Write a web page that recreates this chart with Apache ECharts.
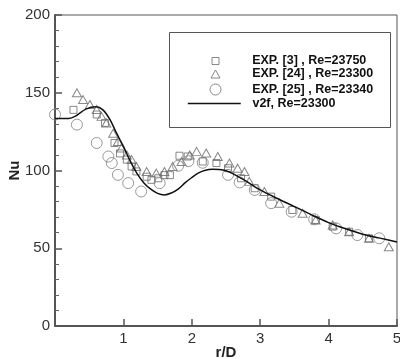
<!DOCTYPE html>
<html>
<head>
<meta charset="utf-8">
<script src="https://cdn.jsdelivr.net/npm/echarts@6/dist/echarts.min.js"></script>
<style>html,body{margin:0;padding:0;background:#fff}#c{width:400px;height:359px}</style>
</head>
<body>
<div id="c"></div>
<script>
// v2f, Re=23300 (line)
const v2fR  = [0, 0.2, 0.3, 0.45, 0.6, 0.7, 0.8, 0.9, 1.0, 1.1, 1.2, 1.3, 1.4, 1.5, 1.6, 1.7, 1.8, 1.9, 2.0, 2.1, 2.2, 2.3, 2.4, 2.5, 2.6, 2.8, 3.0, 3.25, 3.5, 3.75, 4.0, 4.25, 4.5, 4.75, 5.0];
const v2fNu = [133.5, 133.5, 135, 139.5, 141, 139, 133, 124, 115.5, 106, 98, 92, 88, 85.3, 84.3, 85.5, 88, 92, 95.5, 98.5, 100.2, 100.8, 100.6, 99.8, 98, 93, 87.5, 82, 76.8, 71.5, 66.5, 62.5, 59, 56.5, 54];
// EXP. [3], Re=23750 (squares)
const exp3R  = [0.27, 0.61, 0.73, 0.87, 0.95, 1.05, 1.12, 1.19, 1.34, 1.41, 1.51, 1.6, 1.68, 1.82, 1.94, 2.16, 2.36, 2.53, 2.72, 2.92, 3.16, 3.47, 3.81, 4.06, 4.3, 4.59];
const exp3Nu = [139, 136, 130.6, 117.7, 111, 107, 102.6, 99.4, 96, 94, 95, 97, 97, 109.5, 109, 105.8, 104.8, 101.5, 95, 88.6, 83.2, 74.6, 68.2, 63.9, 60.6, 56.4];
// EXP. [24], Re=23300 (triangles)
const exp24R  = [0.32, 0.41, 0.51, 0.61, 0.68, 0.75, 0.85, 0.92, 0.97, 1.05, 1.12, 1.19, 1.34, 1.48, 1.6, 1.72, 1.85, 1.97, 2.07, 2.21, 2.38, 2.55, 2.67, 2.77, 2.84, 3.06, 3.28, 3.62, 3.81, 4.06, 4.3, 4.59, 4.88];
const exp24Nu = [150, 145.6, 142.4, 139.2, 134.8, 130.6, 124, 118.7, 114.5, 110, 107, 102.6, 99.4, 98.3, 99.4, 102.6, 105.8, 110, 112.3, 111.2, 109, 104.8, 101.5, 99.4, 93, 86.5, 79, 72.5, 68.2, 65, 60.6, 56.4, 51];
// EXP. [25], Re=23340 (circles)
const exp25R  = [0, 0.32, 0.61, 0.78, 0.83, 0.92, 1.07, 1.26, 1.53, 1.8, 1.95, 2.16, 2.53, 2.7, 2.92, 3.16, 3.46, 3.79, 4.11, 4.42, 4.74];
const exp25Nu = [136, 129.5, 117.7, 109, 104.8, 97.2, 91.9, 86.5, 91.9, 103, 106, 105, 97.2, 92.3, 87.5, 79, 73.5, 68.6, 62.8, 58.5, 56.4];

const xTicks = [1, 2, 3, 4, 5];
const yTicks = [0, 50, 100, 150, 200];
const names = ['EXP. [3] , Re=23750', 'EXP. [24] , Re=23300', 'EXP. [25] , Re=23340', 'v2f, Re=23300'];

const zip = (a, b) => a.map((v, i) => [v, b[i]]);
const FONT = '"Liberation Sans", Arial, sans-serif';
const mk = '#6a6a6a';

function legendAt(name, left, top, w, h, padLeft, icon) {
  const o = {
    data: [{name: name}],
    left: left, top: top, orient: 'vertical', padding: 0, z: 10,
    itemWidth: w, itemHeight: h, selectedMode: false,
    textStyle: {fontFamily: FONT, fontWeight: 'bold', fontSize: 12.5, color: '#111', padding: [0, 0, 0, padLeft]}
  };
  if (icon) { o.itemStyle = {color: 'transparent', borderColor: mk, borderWidth: 1}; }
  else { o.itemStyle = {opacity: 0}; o.lineStyle = {color: '#111', width: 1.5, opacity: 1}; }
  return o;
}

const chart = echarts.init(document.getElementById('c'));
chart.setOption({
  animation: false,
  backgroundColor: '#fff',
  grid: {left: 55, right: 3, top: 15, bottom: 33, show: true, borderColor: '#555', borderWidth: 1,
         backgroundColor: 'transparent', containLabel: false, outerBoundsMode: 'none'},
  graphic: [{type: 'rect', left: 169, top: 32, shape: {width: 221, height: 95}, style: {fill: '#fff', stroke: '#555', lineWidth: 1}, z: 1}],
  legend: [
    legendAt(names[0], 211.5, 54.5, 7, 7, 28.2, true),
    legendAt(names[1], 210.5, 67.5, 9, 8, 27.2, true),
    legendAt(names[2], 209.5, 83, 11, 11, 26.2, true),
    legendAt(names[3], 187, 97, 53, 10, 6.7, false)
  ],
  xAxis: {
    type: 'value', min: 0, max: 5, interval: 1,
    name: 'r/D', nameLocation: 'middle', nameGap: 19, nameMoveOverlap: false,
    nameTextStyle: {fontFamily: FONT, fontWeight: 'bold', fontSize: 15, color: '#222'},
    axisLine: {lineStyle: {color: '#555', width: 2}},
    axisTick: {inside: true, length: 7, lineStyle: {color: '#555', width: 1.5}},
    axisLabel: {fontFamily: FONT, fontSize: 15, color: '#333', margin: 5, hideOverlap: false,
      formatter: v => xTicks.indexOf(v) >= 0 ? String(v) : ''},
    splitLine: {show: false}
  },
  yAxis: {
    type: 'value', min: 0, max: 200, interval: 50,
    name: 'Nu', nameLocation: 'middle', nameGap: 33, nameRotate: 90, nameMoveOverlap: false,
    nameTextStyle: {fontFamily: FONT, fontWeight: 'bold', fontSize: 15, color: '#222'},
    axisLine: {lineStyle: {color: '#555', width: 2}},
    axisTick: {inside: true, length: 7, lineStyle: {color: '#555', width: 1.5}},
    minorTick: {show: true, splitNumber: 5, length: 4, lineStyle: {color: '#666', width: 1}},
    axisLabel: {fontFamily: FONT, fontSize: 15, color: '#333', margin: 5,
      formatter: v => yTicks.indexOf(v) >= 0 ? String(v) : ''},
    splitLine: {show: false}
  },
  series: [
    {name: names[0], type: 'scatter', symbol: 'rect', symbolSize: 7, data: zip(exp3R, exp3Nu),
     itemStyle: {color: 'transparent', borderColor: mk, borderWidth: 1}, z: 3},
    {name: names[1], type: 'scatter', symbol: 'triangle', symbolSize: [9, 8], data: zip(exp24R, exp24Nu),
     itemStyle: {color: 'transparent', borderColor: mk, borderWidth: 1}, z: 3},
    {name: names[2], type: 'scatter', symbol: 'circle', symbolSize: 11, data: zip(exp25R, exp25Nu),
     itemStyle: {color: 'transparent', borderColor: '#808080', borderWidth: 1}, z: 3},
    {name: names[3], type: 'line', data: zip(v2fR, v2fNu), smooth: 0.3, showSymbol: false, symbol: 'none',
     lineStyle: {color: '#111', width: 1.5}, itemStyle: {color: '#111'}, z: 4}
  ]
});
</script>
</body>
</html>
